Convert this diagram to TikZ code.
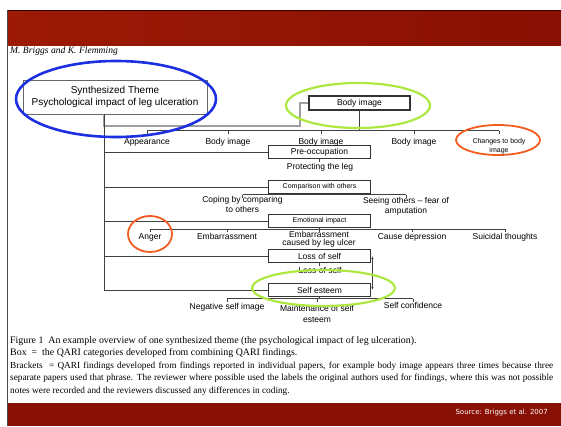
\documentclass[tikz,border=0pt]{standalone}
\usepackage{fontspec}
\setmainfont{Liberation Serif}
\setsansfont{Liberation Sans}
\newfontfamily\slidefont{DejaVu Sans}
\usetikzlibrary{positioning,arrows.meta}

\definecolor{bandred}{RGB}{136,16,4}
\definecolor{bandlight}{RGB}{156,26,6}
\definecolor{ringblue}{RGB}{28,48,226}
\definecolor{ringgreen}{RGB}{172,232,64}
\definecolor{ringorange}{RGB}{242,92,32}

\begin{document}
\begin{tikzpicture}[x=1pt,y=-1pt]
    \tikzstyle{every node}=[inner sep=0pt, font=\sffamily\fontsize{8.5}{10}\selectfont]
    \tikzstyle{category}=[draw=black!80, line width=0.9pt, minimum width=102pt, minimum height=13pt]
    \tikzstyle{finding}=[align=center, text height=6.2pt, text depth=1.8pt]
    \tikzstyle{findings}=[align=center]
    \tikzstyle{small}=[font=\sffamily\fontsize{7}{9}\selectfont]
    \tikzstyle{link}=[draw=black!75, line width=0.6pt]
    \tikzstyle{caption}=[font=\fontsize{9.9}{12.7}\selectfont, anchor=west]
    \useasboundingbox (0,0) rectangle (561,426);

    % slide frame
    \shade[left color=bandlight, right color=bandred] (7,10) rectangle (561,45);
    \draw[black!80!red, line width=1pt] (7,10) -- (561,10);
    \fill[bandred] (7,403) rectangle (561,426);
    \draw[black!70, line width=0.8pt] (7,10) -- (7,426);
    \node[font=\itshape\fontsize{9.6}{11}\selectfont, anchor=west] (authors) at (10,51) {M. Briggs and K. Flemming};

    % theme and categories
    \node[draw=black!60, line width=0.8pt, minimum width=184pt, minimum height=34pt, align=center,
        font=\sffamily\fontsize{10}{12.5}\selectfont] (theme) at (115,97) {Synthesized Theme\\Psychological impact of leg ulceration};
    \node[category, line width=1.2pt, minimum width=101pt, minimum height=14pt] (body) at (359.5,103) {Body image};
    \node[category] (preocc) at (319.5,152) {Pre-occupation};
    \node[category, small] (compare) at (319.5,187) {Comparison with others};
    \node[category, small] (emotion) at (319.5,221) {Emotional impact};
    \node[category] (loss) at (319.5,256) {Loss of self};
    \node[category] (esteem) at (319.5,290) {Self esteem};

    \coordinate (trunk) at (104,114);
    \draw[gray!75, line width=1.1pt] (trunk) |- (300,126) |- (body.west);
    \draw[link] (trunk) |- (esteem.west);
    \draw[link] (trunk) |- (preocc.west);
    \draw[link] (trunk) |- (compare.west);
    \draw[link] (trunk) |- (emotion.west);
    \draw[link] (trunk) |- (loss.west);

    % findings
    \node[finding] (appear) at (147,142.5) {Appearance};
    \node[finding] (bodyA) at (228,142.5) {Body image};
    \node[finding] (bodyB) at (321,142.5) {Body image};
    \node[finding] (bodyC) at (414,142.5) {Body image};
    \node[findings, small] (changes) at (499,146) {Changes to body\\image};
    \node[finding] (protect) at (320,167) {Protecting the leg};
    \node[findings] (coping) at (242.5,204.5) {Coping by comparing\\to others};
    \node[findings] (seeing) at (406,206.5) {Seeing others -- fear of\\amputation};
    \node[finding] (anger) at (150,237) {Anger};
    \node[finding] (embar) at (227,237) {Embarrassment};
    \node[findings, font=\sffamily\fontsize{8.5}{8.3}\selectfont] (embarleg) at (319,239.5) {Embarrassment\\caused by leg ulcer};
    \node[finding] (depress) at (412,237) {Cause depression};
    \node[finding] (suicidal) at (505,237) {Suicidal thoughts};
    \node[finding] (lossf) at (320,271) {Loss of self};
    \node[finding] (negative) at (227,307) {Negative self image};
    \node[findings, font=\sffamily\fontsize{8.5}{11}\selectfont] (maintain) at (317,314) {Maintenance of self\\esteem};
    \node[finding] (confid) at (413,306) {Self confidence};

    % brackets
    \coordinate (r1) at (0,130.5);
    \draw[link] (body.south) -- (body.south |- r1);
    \draw[link] (r1 -| appear) -- (r1 -| changes);
    \foreach \f in {appear,bodyA,bodyB,bodyC,changes}
        \draw[link] (r1 -| \f) -- ++(0,3.5);
    \draw[link] (preocc.south) -- ++(0,3.5);
    \coordinate (r2) at (0,194.5);
    \draw[link] (compare.south) -- (compare.south |- r2);
    \draw[link] (r2 -| coping) -- (r2 -| seeing);
    \foreach \f in {coping,seeing}
        \draw[link] (r2 -| \f) -- ++(0,3);
    \coordinate (r3) at (0,229);
    \draw[link] (emotion.south) -- (emotion.south |- r3);
    \draw[link] (r3 -| anger) -- (r3 -| suicidal);
    \foreach \f in {anger,embar,embarleg,depress,suicidal}
        \draw[link] (r3 -| \f) -- ++(0,3);
    \draw[link] (loss.south) -- ++(0,3.5);
    \coordinate (r4) at (0,298.5);
    \draw[link] (esteem.south) -- (esteem.south |- r4);
    \draw[link] (r4 -| negative) -- (r4 -| confid);
    \foreach \f in {negative,maintain,confid}
        \draw[link] (r4 -| \f) -- ++(0,3);
    \draw[link, {Latex[length=3pt,width=2.4pt]}-{Latex[length=3pt,width=2.4pt]}] ([xshift=1.5pt]loss.east) -- ([xshift=1.5pt]esteem.east);

    % caption
    \node[caption] (cap1) at (10,341) {Figure 1\ \ An example overview of one synthesized theme (the psychological impact of leg ulceration).};
    \node[caption] (cap2) at (10,353) {Box\ \ =\ \ the QARI categories developed from combining QARI findings.};
    \node[caption, font=\fontsize{9.3}{12.7}\selectfont, anchor=north west, text width=543pt, align=justify] (cap3) at (10,361.5) {Brackets\ \ = QARI findings developed from findings reported in individual papers, for example body image appears three times because three\linebreak separate papers used that phrase. The reviewer where possible used the labels the original authors used for findings, where this was not possible\linebreak notes were recorded and the reviewers discussed any differences in coding.};
    \node[font=\slidefont\fontsize{7}{8}\selectfont, text=white, anchor=east] (source) at (548,413) {Source: Briggs et al. 2007};

    % highlight rings
    \draw[ringblue, line width=2.6pt] (116,99) ellipse [x radius=100pt, y radius=38pt];
    \draw[ringgreen, line width=2.2pt] (358,105.5) ellipse [x radius=72pt, y radius=22.5pt];
    \draw[ringorange, line width=1.8pt] (498,140) ellipse [x radius=42pt, y radius=15pt];
    \draw[ringorange, line width=1.8pt] (150,234) ellipse [x radius=22pt, y radius=18pt];
    \draw[ringgreen, line width=2.2pt] (323.5,288) ellipse [x radius=71.5pt, y radius=18pt];
\end{tikzpicture}
\end{document}
